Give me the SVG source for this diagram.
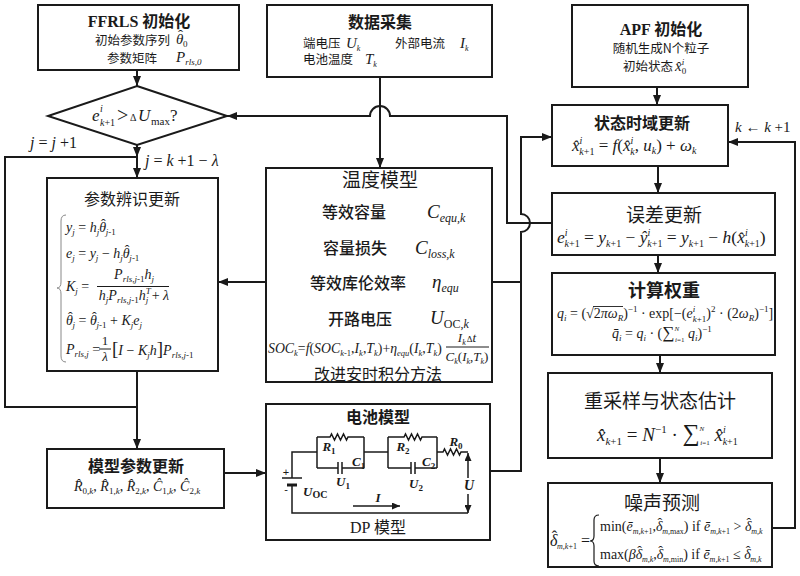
<svg xmlns="http://www.w3.org/2000/svg" width="800" height="576" viewBox="0 0 800 576">
<defs>
<style>
.box{fill:#fff;stroke:#1a1a1a;stroke-width:2}
.ln{fill:none;stroke:#1a1a1a;stroke-width:2}
.th{fill:none;stroke:#1a1a1a;stroke-width:1.5}
.cj{font-family:"Noto Sans CJK SC",sans-serif;fill:#1a1a1a}
.cjb{font-family:"Liberation Serif","Noto Sans CJK SC",serif;font-weight:bold;fill:#1a1a1a}
.m{font-family:"Liberation Serif",serif;font-style:italic;fill:#1a1a1a}
.u{font-style:normal}
.lb{font-family:"Liberation Serif",serif;font-style:italic;font-weight:bold;fill:#1a1a1a}
</style>
<marker id="ah" viewBox="0 0 10 8" refX="10" refY="4" markerWidth="10" markerHeight="8" markerUnits="userSpaceOnUse" orient="auto"><path d="M0,0 L10,4 L0,8 z" fill="#1a1a1a"/></marker>
<marker id="ahs" viewBox="0 0 8 7" refX="8" refY="3.5" markerWidth="8" markerHeight="7" markerUnits="userSpaceOnUse" orient="auto"><path d="M0,0 L8,3.5 L0,7 z" fill="#1a1a1a"/></marker>
</defs>
<rect width="800" height="576" fill="#fff"/>

<g id="connectors">
<path class="ln" d="M137,70 V86" marker-end="url(#ah)"/>
<path class="ln" d="M137,145 V157" marker-end="url(#ah)"/>
<path class="ln" d="M137,157 V178" marker-end="url(#ah)"/>
<path class="ln" d="M137,407 H5 V157 H137"/>
<path class="ln" d="M137,371 V449" marker-end="url(#ah)"/>
<path class="ln" d="M266,282 H218" marker-end="url(#ah)"/>
<path class="ln" d="M492,282 H521"/>
<path class="ln" d="M380,77 V168" marker-end="url(#ah)"/>
<path class="ln" d="M552,223 H507 V116 H390 A10,10 0 0 0 370,116 H227" marker-end="url(#ah)"/>
<path class="ln" d="M490,471 H521 V232 A9,9 0 0 0 521,214 V137 H552" marker-end="url(#ah)"/>
<path class="ln" d="M224,473 H266" marker-end="url(#ah)"/>
<path class="ln" d="M657,87 V105" marker-end="url(#ah)"/>
<path class="ln" d="M658,166 V193" marker-end="url(#ah)"/>
<path class="ln" d="M658,255 V273" marker-end="url(#ah)"/>
<path class="ln" d="M660,355 V373" marker-end="url(#ah)"/>
<path class="ln" d="M660,458 V483" marker-end="url(#ah)"/>
<path class="ln" d="M772,528 H795 V142 H728" marker-end="url(#ah)"/>
<text class="m" x="30" y="148" font-size="16">j <tspan class="u">=</tspan> j <tspan class="u">+1</tspan></text>
<text class="m" x="145" y="166" font-size="16">j <tspan class="u">=</tspan> k <tspan class="u">+1 −</tspan> λ</text>
<text class="m" x="735" y="132" font-size="15">k <tspan class="u">←</tspan> k <tspan class="u">+1</tspan></text>
</g>

<g id="ffrls">
<rect class="box" x="38" y="5" width="201" height="65"/>
<text class="cjb" x="139" y="27" font-size="16" text-anchor="middle">FFRLS 初始化</text>
<text class="cj" x="95" y="45" font-size="12.5">初始参数序列</text>
<text class="m" x="176" y="44" font-size="15">θ<tspan dx="-5.3" dy="-4" class="u">ˆ</tspan><tspan dy="7" font-size="9" class="u">0</tspan></text>
<text class="cj" x="107" y="63" font-size="12.5">参数矩阵</text>
<text class="m" x="176" y="62" font-size="15">P<tspan dy="3" font-size="9">rls,0</tspan></text>
</g>

<g id="decision">
<polygon class="box" points="137,86 227,116 137,145 48,116"/>
<text class="m" font-size="17"><tspan x="92" y="121">e</tspan><tspan x="100" y="112" font-size="10">i</tspan><tspan x="100" y="126" font-size="10">k<tspan class="u">+1</tspan></tspan><tspan x="117" y="122" font-size="20" class="u">&gt;</tspan><tspan x="130" y="121" font-size="10" class="u">Δ</tspan><tspan x="138" y="121">U</tspan><tspan x="151" y="125" font-size="11" class="u">max</tspan><tspan x="170" y="121" class="u">?</tspan></text>
</g>

<g id="data">
<rect class="box" x="267" y="5" width="225" height="72"/>
<text class="cjb" x="380" y="28" font-size="16" text-anchor="middle">数据采集</text>
<text class="cj" x="303" y="48" font-size="12.5">端电压</text>
<text class="m" x="346" y="48" font-size="15">U<tspan dy="3" font-size="8">k</tspan></text>
<text class="cj" x="395" y="48" font-size="12.5">外部电流</text>
<text class="m" x="460" y="48" font-size="15">I<tspan dy="3" font-size="8">k</tspan></text>
<text class="cj" x="303" y="64" font-size="12.5">电池温度</text>
<text class="m" x="365" y="64" font-size="15">T<tspan dy="3" font-size="8">k</tspan></text>
</g>

<g id="apf">
<rect class="box" x="572" y="5" width="176" height="82"/>
<text class="cjb" x="661" y="35" font-size="16" text-anchor="middle">APF 初始化</text>
<text class="cj" x="661" y="53" font-size="12.5" text-anchor="middle">随机生成N个粒子</text>
<text class="cj" x="623" y="71" font-size="12.5">初始状态</text>
<text class="m" x="675" y="71" font-size="15">x̂<tspan dy="-6" font-size="9">i</tspan><tspan dx="-2.5" dy="9" font-size="9" class="u">0</tspan></text>
</g>

<g id="state">
<rect class="box" x="552" y="105" width="176" height="61"/>
<text class="cjb" x="642" y="129" font-size="16" text-anchor="middle">状态时域更新</text>
<text class="m" x="572" y="151" font-size="17">x̂<tspan dy="-7" font-size="10">i</tspan><tspan dx="-3" dy="11" font-size="10">k<tspan class="u">+1</tspan></tspan><tspan dy="-4" class="u"> = </tspan><tspan>f</tspan><tspan class="u">(</tspan><tspan>x̂</tspan><tspan dy="-7" font-size="10">i</tspan><tspan dx="-3" dy="11" font-size="10">k</tspan><tspan dy="-4" class="u">, </tspan><tspan>u</tspan><tspan dy="3" font-size="10">k</tspan><tspan dy="-3" class="u">) + </tspan><tspan>ω</tspan><tspan dy="3" font-size="10">k</tspan></text>
</g>

<g id="error">
<rect class="box" x="552" y="193" width="223" height="62"/>
<text class="cj" x="664" y="222" font-size="19" text-anchor="middle">误差更新</text>
<text class="m" x="557" y="243" font-size="17.5">e<tspan dy="-7" font-size="10">i</tspan><tspan dx="-3" dy="11" font-size="10">k<tspan class="u">+1</tspan></tspan><tspan dy="-4" class="u"> = </tspan><tspan>y</tspan><tspan dy="4" font-size="10">k<tspan class="u">+1</tspan></tspan><tspan dy="-4" class="u"> − </tspan><tspan>ŷ</tspan><tspan dy="-7" font-size="10">i</tspan><tspan dx="-3" dy="11" font-size="10">k<tspan class="u">+1</tspan></tspan><tspan dy="-4" class="u"> = </tspan><tspan>y</tspan><tspan dy="4" font-size="10">k<tspan class="u">+1</tspan></tspan><tspan dy="-4" class="u"> − </tspan><tspan>h</tspan><tspan class="u">(</tspan><tspan>x̂</tspan><tspan dy="-7" font-size="10">i</tspan><tspan dx="-3" dy="11" font-size="10">k<tspan class="u">+1</tspan></tspan><tspan dy="-4" class="u">)</tspan></text>
</g>

<g id="weight">
<rect class="box" x="552" y="273" width="223" height="82"/>
<text class="cjb" x="664" y="297" font-size="18" text-anchor="middle">计算权重</text>
<text class="m" x="557" y="318" font-size="14">q<tspan dy="3" font-size="9">i</tspan><tspan dy="-3" class="u"> = (√2</tspan><tspan>πω</tspan><tspan dy="3" font-size="9">R</tspan><tspan dy="-3" class="u">)</tspan><tspan dy="-6" font-size="9" class="u">−1</tspan><tspan dy="6" class="u"> · exp[−(</tspan><tspan>e</tspan><tspan dy="-6" font-size="9">i</tspan><tspan dx="-2.5" dy="10" font-size="9">k<tspan class="u">+1</tspan></tspan><tspan dy="-4" class="u">)</tspan><tspan dy="-6" font-size="9" class="u">2</tspan><tspan dy="6" class="u"> · (2</tspan><tspan>ω</tspan><tspan dy="3" font-size="9">R</tspan><tspan dy="-3" class="u">)</tspan><tspan dy="-6" font-size="9" class="u">−1</tspan><tspan dy="6" class="u">]</tspan></text>
<line x1="593" y1="306.5" x2="623" y2="306.5" stroke="#1a1a1a" stroke-width="0.9"/>
<text class="m" x="612" y="338" font-size="14">q̄<tspan dy="3" font-size="9">i</tspan><tspan dy="-3" class="u"> = </tspan><tspan>q</tspan><tspan dy="3" font-size="9">i</tspan><tspan dy="-3" class="u"> · (</tspan><tspan class="u" font-size="17">∑</tspan><tspan dy="-7" font-size="7">N</tspan><tspan dx="-4" dy="11" font-size="7">i<tspan class="u">=1</tspan></tspan><tspan dy="-4"> q</tspan><tspan dy="3" font-size="9">i</tspan><tspan dy="-3" class="u">)</tspan><tspan dy="-6" font-size="9" class="u">−1</tspan></text>
</g>

<g id="resample">
<rect class="box" x="548" y="373" width="224" height="85"/>
<text class="cj" x="660" y="408" font-size="19" text-anchor="middle">重采样与状态估计</text>
<text class="m" x="597" y="441" font-size="19">x̂<tspan dy="4" font-size="11">k<tspan class="u">+1</tspan></tspan><tspan dy="-4" class="u"> = </tspan><tspan>N</tspan><tspan dy="-8" font-size="11" class="u">−1</tspan><tspan dy="8" class="u"> · </tspan><tspan class="u" font-size="24">∑</tspan><tspan dy="-10" font-size="7">N</tspan><tspan dx="-4" dy="14" font-size="7">i<tspan class="u">=1</tspan></tspan><tspan dy="-4"> x̂</tspan><tspan dy="-8" font-size="10">i</tspan><tspan dx="-3" dy="12" font-size="10">k<tspan class="u">+1</tspan></tspan></text>
</g>

<g id="noise">
<rect class="box" x="548" y="483" width="224" height="84"/>
<text class="cj" x="662" y="510" font-size="19" text-anchor="middle">噪声预测</text>
<text class="m" x="550" y="546" font-size="16">δ<tspan dx="-5.7" dy="-4" class="u">ˆ</tspan><tspan dy="7" font-size="8">m,k<tspan class="u">+1</tspan></tspan><tspan dy="-3" class="u"> =</tspan></text>
<path d="M599,515 Q594,515 594,520 V536 Q594,541 590,541 Q594,541 594,546 V561 Q594,566 599,566" fill="none" stroke="#1a1a1a" stroke-width="1.2"/>
<text class="m" x="600" y="531" font-size="14"><tspan class="u">min(</tspan>ē<tspan dy="3" font-size="8">m,k<tspan class="u">+1</tspan></tspan><tspan dy="-3" class="u">,</tspan>δ<tspan dx="-5" dy="-3.5" class="u">ˆ</tspan><tspan dy="6.5" font-size="8">m,<tspan class="u">max</tspan></tspan><tspan dy="-3" class="u">) if </tspan>ē<tspan dy="3" font-size="8">m,k<tspan class="u">+1</tspan></tspan><tspan dy="-3" class="u"> &gt; </tspan>δ<tspan dx="-5" dy="-3.5" class="u">ˆ</tspan><tspan dy="6.5" font-size="8">m,k</tspan></text>
<text class="m" x="600" y="559" font-size="14"><tspan class="u">max(</tspan>βδ<tspan dx="-5" dy="-3.5" class="u">ˆ</tspan><tspan dy="6.5" font-size="8">m,k</tspan><tspan dy="-3" class="u">,</tspan>δ<tspan dx="-5" dy="-3.5" class="u">ˆ</tspan><tspan dy="6.5" font-size="8">m,<tspan class="u">min</tspan></tspan><tspan dy="-3" class="u">) if </tspan>ē<tspan dy="3" font-size="8">m,k<tspan class="u">+1</tspan></tspan><tspan dy="-3" class="u"> ≤ </tspan>δ<tspan dx="-5" dy="-3.5" class="u">ˆ</tspan><tspan dy="6.5" font-size="8">m,k</tspan></text>
</g>

<g id="param">
<rect class="box" x="47" y="178" width="171" height="193"/>
<text class="cj" x="132" y="205" font-size="16" text-anchor="middle">参数辨识更新</text>
<path d="M66,215 Q61,215 61,221 V282 Q61,288 57,288 Q61,288 61,294 V356 Q61,362 66,362" fill="none" stroke="#888" stroke-width="1"/>
<text class="m" x="66" y="232" font-size="14">y<tspan dy="3" font-size="9">j</tspan><tspan dy="-3" class="u"> = </tspan>h<tspan dy="3" font-size="9">j</tspan><tspan dy="-3">θ</tspan><tspan dx="-5" dy="-3.5" class="u">ˆ</tspan><tspan dy="6.5" font-size="9">j<tspan class="u">-1</tspan></tspan></text>
<text class="m" x="66" y="258" font-size="14">e<tspan dy="3" font-size="9">j</tspan><tspan dy="-3" class="u"> = </tspan>y<tspan dy="3" font-size="9">j</tspan><tspan dy="-3" class="u"> − </tspan>h<tspan dy="3" font-size="9">j</tspan><tspan dy="-3">θ</tspan><tspan dx="-5" dy="-3.5" class="u">ˆ</tspan><tspan dy="6.5" font-size="9">j<tspan class="u">-1</tspan></tspan></text>
<text class="m" x="66" y="291" font-size="14">K<tspan dy="3" font-size="9">j</tspan><tspan dy="-3" class="u"> =</tspan></text>
<text class="m" x="134" y="279" font-size="14" text-anchor="middle">P<tspan dy="3" font-size="9">rls,j<tspan class="u">-1</tspan></tspan><tspan dy="-3">h</tspan><tspan dy="3" font-size="9">j</tspan></text>
<line x1="97" y1="286.5" x2="169" y2="286.5" stroke="#1a1a1a" stroke-width="1"/>
<text class="m" x="134" y="300" font-size="14" text-anchor="middle">h<tspan dy="3" font-size="9">j</tspan><tspan dy="-3">P</tspan><tspan dy="3" font-size="9">rls,j<tspan class="u">-1</tspan></tspan><tspan dy="-3">h</tspan><tspan dy="-6" font-size="9">T</tspan><tspan dx="-5" dy="9" font-size="9">j</tspan><tspan dy="-3" class="u"> + </tspan>λ</text>
<text class="m" x="66" y="325" font-size="14">θ<tspan dx="-5" dy="-3.5" class="u">ˆ</tspan><tspan dy="6.5" font-size="9">j</tspan><tspan dy="-3" class="u"> = </tspan>θ<tspan dx="-5" dy="-3.5" class="u">ˆ</tspan><tspan dy="6.5" font-size="9">j<tspan class="u">-1</tspan></tspan><tspan dy="-3" class="u"> + </tspan>K<tspan dy="3" font-size="9">j</tspan><tspan dy="-3">e</tspan><tspan dy="3" font-size="9">j</tspan></text>
<text class="m" x="66" y="354" font-size="14">P<tspan dy="3" font-size="9">rls,j</tspan><tspan dy="-3" class="u"> =</tspan></text>
<text class="m u" x="105" y="345" font-size="13" text-anchor="middle">1</text>
<line x1="99" y1="349" x2="111" y2="349" stroke="#1a1a1a" stroke-width="1"/>
<text class="m" x="105" y="361" font-size="13" text-anchor="middle">λ</text>
<text class="m" x="112" y="355" font-size="14"><tspan class="u" font-size="19">[</tspan>I<tspan class="u"> − </tspan>K<tspan dy="3" font-size="9">j</tspan><tspan dy="-3">h</tspan><tspan class="u" font-size="19">]</tspan>P<tspan dy="3" font-size="9">rls,j<tspan class="u">-1</tspan></tspan></text>
</g>

<g id="thermal">
<rect class="box" x="266" y="168" width="226" height="214"/>
<text class="cj" x="380" y="187" font-size="19" text-anchor="middle">温度模型</text>
<text class="cj" x="322" y="218" font-size="16" font-weight="500">等效容量</text>
<text class="m" x="427" y="218" font-size="19">C<tspan dy="4" font-size="12">equ,k</tspan></text>
<text class="cj" x="323" y="254" font-size="16" font-weight="500">容量损失</text>
<text class="m" x="415" y="254" font-size="19">C<tspan dy="4" font-size="12">loss,k</tspan></text>
<text class="cj" x="310" y="289" font-size="16" font-weight="500">等效库伦效率</text>
<text class="m" x="432" y="288" font-size="19">η<tspan dy="4" font-size="12">equ</tspan></text>
<text class="cj" x="328" y="325" font-size="16" font-weight="500">开路电压</text>
<text class="m" x="430" y="324" font-size="19">U<tspan dy="4" font-size="12" class="u">OC,<tspan class="m">k</tspan></tspan></text>
<text class="m" x="268" y="353" font-size="13.8">SOC<tspan dy="3" font-size="8.5">k</tspan><tspan dy="-3" class="u">=</tspan>f<tspan class="u">(</tspan>SOC<tspan dy="3" font-size="8.5">k<tspan class="u">-1</tspan></tspan><tspan dy="-3" class="u">,</tspan>I<tspan dy="3" font-size="8.5">k</tspan><tspan dy="-3" class="u">,</tspan>T<tspan dy="3" font-size="8.5">k</tspan><tspan dy="-3" class="u">)+</tspan>η<tspan dy="3" font-size="8.5">equ</tspan><tspan dy="-3" class="u">(</tspan>I<tspan dy="3" font-size="8.5">k</tspan><tspan dy="-3" class="u">,</tspan>T<tspan dy="3" font-size="8.5">k</tspan><tspan dy="-3" class="u">)</tspan></text>
<text class="m" x="467" y="342" font-size="13" text-anchor="middle">I<tspan dy="3" font-size="8">k</tspan><tspan dy="-3" dx="1" class="u" font-size="9">Δ</tspan>t</text>
<line x1="446" y1="347" x2="489" y2="347" stroke="#1a1a1a" stroke-width="1"/>
<text class="m" x="467" y="361" font-size="13" text-anchor="middle">C<tspan dy="3" font-size="8">k</tspan><tspan dy="-3" class="u">(</tspan>I<tspan dy="3" font-size="8">k</tspan><tspan dy="-3" class="u">,</tspan>T<tspan dy="3" font-size="8">k</tspan><tspan dy="-3" class="u">)</tspan></text>
<text class="cj" x="378" y="380" font-size="16" text-anchor="middle">改进安时积分方法</text>
</g>

<g id="model-update">
<rect class="box" x="47" y="449" width="177" height="59"/>
<text class="cjb" x="136" y="472" font-size="16" text-anchor="middle">模型参数更新</text>
<text class="m" x="74" y="491" font-size="14">R̂<tspan dy="3" font-size="9"><tspan class="u">0,</tspan>k</tspan><tspan dy="-3" class="u">, </tspan>R̂<tspan dy="3" font-size="9"><tspan class="u">1,</tspan>k</tspan><tspan dy="-3" class="u">, </tspan>R̂<tspan dy="3" font-size="9"><tspan class="u">2,</tspan>k</tspan><tspan dy="-3" class="u">, </tspan>Ĉ<tspan dy="3" font-size="9"><tspan class="u">1,</tspan>k</tspan><tspan dy="-3" class="u">, </tspan>Ĉ<tspan dy="3" font-size="9"><tspan class="u">2,</tspan>k</tspan></text>
</g>

<g id="battery">
<rect class="box" x="266" y="404" width="224" height="136"/>
<text class="cjb" x="378" y="423" font-size="16" text-anchor="middle">电池模型</text>
<path class="th" d="M292,478 V452 H317"/>
<path class="th" d="M317,437 V468 M364,437 V468"/>
<path class="th" d="M317,437 H330 l1.5,-3 l3,6 l3,-6 l3,6 l3,-6 l3,6 l1.5,-3 H364"/>
<path class="th" d="M317,468 H338 M342,468 H364 M338,462 V474 M342,462 V474"/>
<path class="th" d="M364,452 H388"/>
<path class="th" d="M388,437 V468 M437,437 V468"/>
<path class="th" d="M388,437 H404 l1.5,-3 l3,6 l3,-6 l3,6 l3,-6 l3,6 l1.5,-3 H437"/>
<path class="th" d="M388,468 H411 M415,468 H437 M411,462 V474 M415,462 V474"/>
<path class="th" d="M437,452 H443 l1.5,-3 l3,6 l3,-6 l3,6 l3,-6 l3,6 l1.5,-3 H468"/>
<path class="th" d="M468,478 V453" marker-end="url(#ahs)"/>
<path class="th" d="M468,494 V513" marker-end="url(#ahs)"/>
<path class="th" d="M292,485 V513 H468"/>
<line x1="282" y1="478" x2="302" y2="478" stroke="#1a1a1a" stroke-width="1.5"/>
<line x1="287" y1="485" x2="297" y2="485" stroke="#1a1a1a" stroke-width="3"/>
<text x="286" y="476" font-family="Liberation Sans,sans-serif" font-size="11" text-anchor="middle" fill="#1a1a1a">+</text>
<text x="286" y="493" font-family="Liberation Sans,sans-serif" font-size="11" text-anchor="middle" fill="#1a1a1a">-</text>
<path class="th" d="M353,506 H400" marker-end="url(#ahs)"/>
<text class="lb" x="329" y="451" font-size="13" text-anchor="middle">R<tspan dy="3" font-size="9" font-style="normal">1</tspan></text>
<text class="lb" x="352" y="466" font-size="13">C<tspan dy="3" font-size="9" font-style="normal">1</tspan></text>
<text class="lb" x="343" y="486" font-size="13" text-anchor="middle">U<tspan dy="3" font-size="9" font-style="normal">1</tspan></text>
<text class="lb" x="403" y="451" font-size="13" text-anchor="middle">R<tspan dy="3" font-size="9" font-style="normal">2</tspan></text>
<text class="lb" x="422" y="466" font-size="13">C<tspan dy="3" font-size="9" font-style="normal">2</tspan></text>
<text class="lb" x="416" y="488" font-size="13" text-anchor="middle">U<tspan dy="3" font-size="9" font-style="normal">2</tspan></text>
<text class="lb" x="456" y="446" font-size="13" text-anchor="middle">R<tspan dy="3" font-size="9" font-style="normal">0</tspan></text>
<text class="lb" x="469" y="490" font-size="14" text-anchor="middle">U</text>
<text class="lb" x="303" y="496" font-size="13">U<tspan dy="2" font-size="10" font-style="normal">OC</tspan></text>
<text class="lb" x="378" y="502" font-size="13" text-anchor="middle">I</text>
<text x="378" y="533" font-family="Liberation Serif,'Noto Sans CJK SC',serif" font-size="16" text-anchor="middle" fill="#1a1a1a">DP <tspan font-family="Noto Sans CJK SC,sans-serif">模型</tspan></text>
</g>
</svg>
